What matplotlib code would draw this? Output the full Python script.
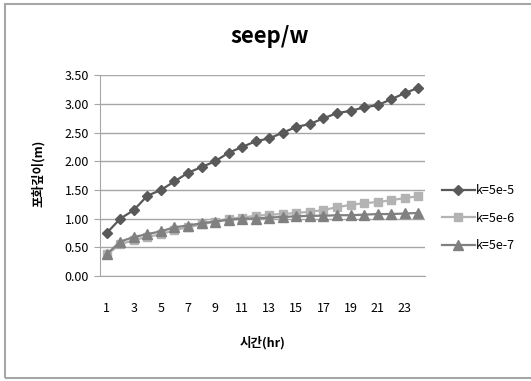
import matplotlib
matplotlib.use("Agg")
import matplotlib.pyplot as plt
from matplotlib.patches import Rectangle

plt.rcParams['font.family'] = ['Noto Sans CJK KR', 'DejaVu Sans']

# hours 1..24
hours = list(range(1, 25))
k_5e5 = [0.75, 1.00, 1.15, 1.40, 1.50, 1.65, 1.80, 1.90, 2.00, 2.15, 2.25, 2.35,
         2.40, 2.50, 2.60, 2.65, 2.75, 2.84, 2.88, 2.94, 2.98, 3.08, 3.19, 3.28]
k_5e6 = [0.38, 0.55, 0.63, 0.68, 0.73, 0.80, 0.85, 0.90, 0.95, 1.00, 1.02, 1.05,
         1.07, 1.08, 1.10, 1.12, 1.15, 1.20, 1.24, 1.27, 1.29, 1.32, 1.36, 1.39]
k_5e7 = [0.38, 0.60, 0.68, 0.73, 0.78, 0.85, 0.88, 0.92, 0.95, 0.98, 1.00, 1.00,
         1.02, 1.03, 1.04, 1.05, 1.05, 1.06, 1.06, 1.07, 1.08, 1.08, 1.09, 1.10]
labels = ["k=5e-5", "k=5e-6", "k=5e-7"]
yticks = [0.0, 0.5, 1.0, 1.5, 2.0, 2.5, 3.0, 3.5]

W, H = 531, 381
fig = plt.figure(figsize=(W / 100, H / 100), dpi=100)

# outer chart border (right side falls outside the picture)
fig.patches.append(Rectangle((5 / W, 3 / H), 1.2, 1 - 7 / H, transform=fig.transFigure,
                             fill=False, edgecolor="#a6a6a6", linewidth=1.5))

ax = fig.add_axes([100 / W, 1 - 276 / H, 325 / W, 200.7 / H])

ax.plot(hours, k_5e5, color="#595959", lw=1.6, marker="D", ms=5.5, label=labels[0])
ax.plot(hours, k_5e6, color="#b3b3b3", lw=1.6, marker="s", ms=5.5, label=labels[1])
ax.plot(hours, k_5e7, color="#808080", lw=1.6, marker="^", ms=6.5, label=labels[2])

ax.set_xlim(0.5, 24.5)
ax.set_ylim(0, 3.5)
ax.set_yticks(yticks)
ax.set_yticklabels(["%.2f" % v for v in yticks], fontsize=9)
ax.set_xticks(hours[::2])
ax.set_xticklabels([str(h) for h in hours[::2]], fontsize=9)
ax.tick_params(axis="x", length=0, pad=19)
ax.tick_params(axis="y", length=4, color="#a6a6a6", pad=4)
ax.grid(axis="y", color="#a6a6a6", lw=1)
ax.set_axisbelow(True)
for s in ["top", "right"]:
    ax.spines[s].set_visible(False)
ax.spines["left"].set_color("#a6a6a6")
ax.spines["bottom"].set_color("#a6a6a6")

fig.text(270 / W, 1 - 37 / H, "seep/w", ha="center", va="center",
         fontsize=16, fontweight="bold")
fig.text(38 / W, 1 - 173 / H, "포화깊이(m)", ha="center", va="center",
         rotation=90, fontsize=9, fontweight="bold")
fig.text(263 / W, 1 - 343 / H, "시간(hr)", ha="center", va="center",
         fontsize=9, fontweight="bold")

ax.legend(loc="center left", bbox_to_anchor=(442 / W, 1 - 218 / H),
          bbox_transform=fig.transFigure, frameon=False, fontsize=9,
          handlelength=2.6, handletextpad=0.1, labelspacing=1.15, borderaxespad=0,
          borderpad=0)

fig.savefig("out.png", dpi=100)
